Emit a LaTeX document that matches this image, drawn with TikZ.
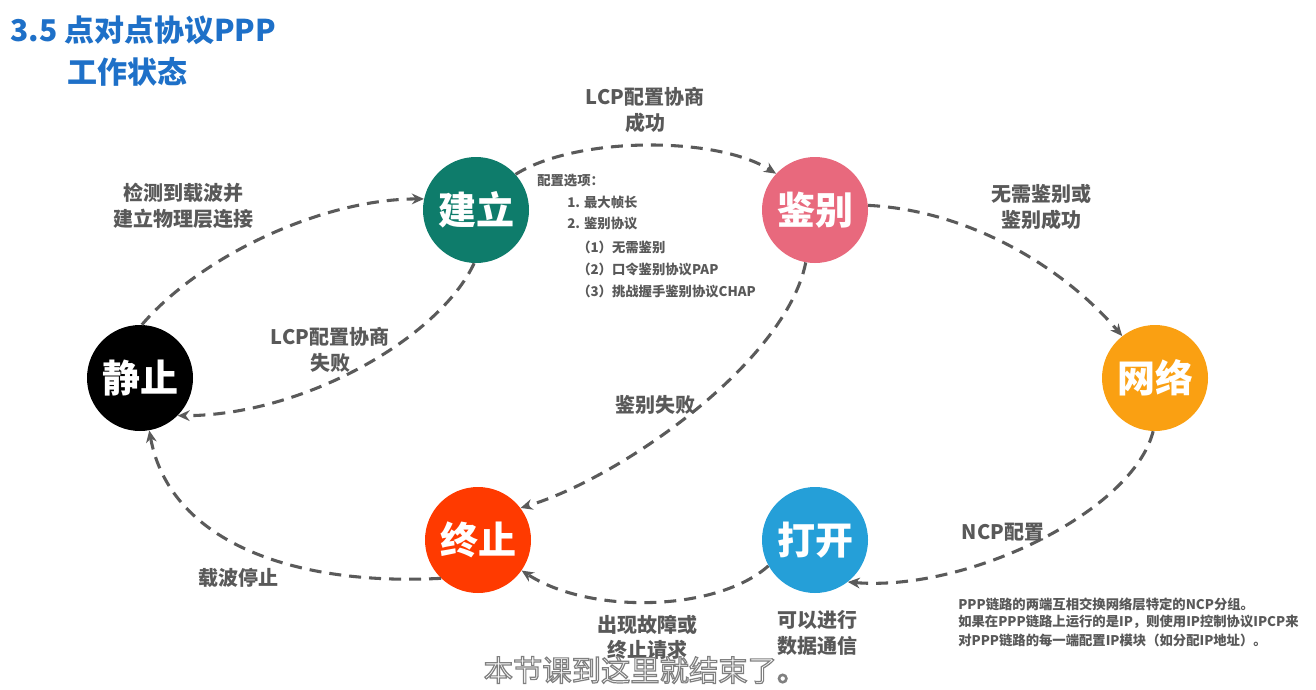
\documentclass[tikz,border=0pt]{standalone}
\usepackage{fontspec}
\setmainfont{Noto Sans CJK SC}
\usetikzlibrary{arrows.meta}
\definecolor{cteal}{HTML}{0E7C6B}
\definecolor{cpink}{HTML}{E8697D}
\definecolor{corange}{HTML}{FAA012}
\definecolor{cred}{HTML}{FF3A00}
\definecolor{cblue}{HTML}{259FD8}
\definecolor{ctitle}{HTML}{1E70C8}
\definecolor{cgray}{HTML}{595959}
\definecolor{cline}{HTML}{5A5A5A}
\makeatletter
\newcommand{\outlinedtext}[1]{\pgfsys@invoke{2 Tr 0.9 w 0.5 0.5 0.5 RG}#1\pgfsys@invoke{0 Tr}}
\makeatother
\tikzset{
  state/.style={circle,minimum size=79.5pt,inner sep=0pt,text=white,font=\fontsize{28.5}{30}\selectfont\bfseries},
  flow/.style={draw=cline,line width=2.3pt,dash pattern=on 9pt off 6pt,-{Stealth[length=9pt,width=8pt]}},
  lbl/.style={text=cgray,align=center,font=\fontsize{15}{19}\selectfont\bfseries},
  small/.style={text=cgray,anchor=west,font=\fontsize{10}{12}\selectfont\bfseries,inner sep=0pt},
  ttl/.style={text=ctitle,anchor=west,font=\fontsize{22.5}{26}\selectfont\bfseries,inner sep=0pt}
}
\begin{document}
\begin{tikzpicture}[x=0.75pt,y=-0.75pt]
\path[use as bounding box,fill=white] (0,0) rectangle (1316,689);
% title
\node[ttl] (t1) at (10,30) {3.5 点对点协议PPP};
\node[ttl] (t2) at (67,72) {工作状态};
% states
\node[state,fill=black] (jz) at (140,378) {静止};
\node[state,fill=cteal] (jl) at (476,210) {建立};
\node[state,fill=cpink] (jb) at (815,210) {鉴别};
\node[state,fill=corange] (wl) at (1155,378) {网络};
\node[state,fill=cblue] (dk) at (815,540) {打开};
\node[state,fill=cred] (zz) at (478,540) {终止};
% connectors
\draw[flow] (jz.88) .. controls +(60,-70) and +(-100,0) .. (jl.168);
\draw[flow] (jl.42) .. controls +(60,-38) and +(-60,-38) .. (jb.137);
\draw[flow] (jb.5) .. controls +(100,5) and +(-60,-70) .. (wl.128);
\draw[flow] (wl.-92) .. controls +(-20,80) and +(120,10) .. (dk.-52);
\draw[flow] (dk.-151) .. controls +(-50,45) and +(70,45) .. (zz.-35);
\draw[flow] (zz.-134) .. controls +(-150,8) and +(20,110) .. (jz.-80);
\draw[flow] (jl.-92) .. controls +(-35,75) and +(125,0) .. (jz.-45);
\draw[flow] (jb.-100) .. controls +(-20,100) and +(100,-30) .. (zz.37);
% labels
\node[lbl] (l1) at (645,110) {LCP配置协商\\成功};
\node[lbl] (l2) at (183,206) {检测到载波并\\建立物理层连接};
\node[lbl] (l3) at (1041,207) {无需鉴别或\\鉴别成功};
\node[lbl] (l4) at (330,350) {LCP配置协商\\失败};
\node[lbl] (l5) at (655,405) {鉴别失败};
\node[lbl] (l6) at (1003,532) {NCP配置};
\node[lbl] (l7) at (238,578) {载波停止};
\node[lbl] (l8) at (647,637) {出现故障或\\终止请求};
\node[lbl] (l9) at (817,633) {可以进行\\数据通信};
% options
\node[small] (o0) at (537,181) {配置选项：};
\node[small] (o1) at (567,202) {1. 最大帧长};
\node[small] (o2) at (567,224) {2. 鉴别协议};
\node[small] (o3) at (577,247) {（1）无需鉴别};
\node[small] (o4) at (577,269) {（2）口令鉴别协议PAP};
\node[small] (o5) at (577,291) {（3）挑战握手鉴别协议CHAP};
% note
\node[small] (n1) at (958,604) {PPP链路的两端互相交换网络层特定的NCP分组。};
\node[small] (n2) at (958,622) {如果在PPP链路上运行的是IP，则使用IP控制协议IPCP来};
\node[small] (n3) at (958,640) {对PPP链路的每一端配置IP模块（如分配IP地址）。};
% subtitle
\node[text=white,font=\fontsize{22}{24}\selectfont] (sub) at (645,670) {\outlinedtext{本节课到这里就结束了。}};
\end{tikzpicture}
\end{document}
